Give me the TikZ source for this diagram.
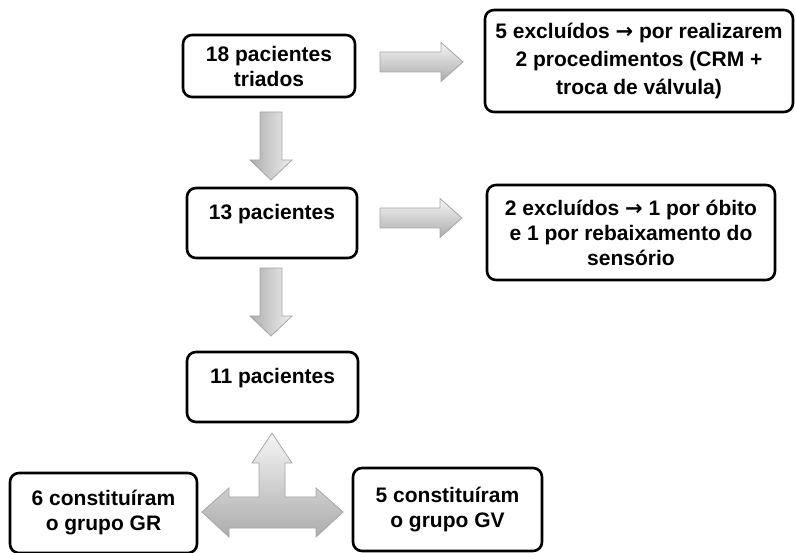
\documentclass[tikz,border=0pt]{standalone}
\usepackage{fontspec}
\setmainfont{Liberation Sans}
\newfontfamily\setafont{DejaVu Sans}
\usetikzlibrary{positioning}

\tikzset{
  caixa/.style={draw, line width=2.6pt, rounded corners=9pt, fill=white, align=center,
                inner sep=0pt, font=\bfseries\fontsize{21}{25}\selectfont},
  umalinha/.style={text height=15pt, text depth=22pt},
  setah/.style={draw=gray!70, line width=0.8pt, top color=gray!8, bottom color=gray!65},
  setav/.style={draw=gray!70, line width=0.8pt, left color=gray!65, right color=gray!12},
}
\newcommand{\seta}{{\setafont\bfseries →}}

\begin{document}
\begin{tikzpicture}[x=1pt, y=-1pt]

  \useasboundingbox (0,0) rectangle (796,553);

	%boxes
  \node[caixa, minimum width=172, minimum height=62] (triados) at (269,66) {18 pacientes\\triados};
  \node[caixa, minimum width=308, minimum height=102, font=\bfseries\fontsize{21}{28}\selectfont]
       (excl1) at (639,61) {5 excluídos \seta{} por realizarem\\2 procedimentos (CRM +\\troca de válvula)};
  \node[caixa, umalinha, minimum width=170, minimum height=70] (p13) at (272,223) {13 pacientes};
  \node[caixa, minimum width=288, minimum height=95] (excl2) at (631,232.5) {2 excluídos \seta{} 1 por óbito\\e 1 por rebaixamento do\\sensório};
  \node[caixa, umalinha, minimum width=171, minimum height=70] (p11) at (272.5,387) {11 pacientes};
  \node[caixa, minimum width=187, minimum height=80] (gr) at (103.5,513) {6 constituíram\\o grupo GR};
  \node[caixa, minimum width=189, minimum height=83] (gv) at (447.5,509.5) {5 constituíram\\o grupo GV};

	%arrows right
    \foreach \y/\xa/\xb in {62/380/463, 218/380/462}{
        \draw[setah] (\xa,\y-10) -- (\xb-22,\y-10) -- (\xb-22,\y-19.5) -- (\xb,\y)
              -- (\xb-22,\y+19.5) -- (\xb-22,\y+10) -- (\xa,\y+10) -- cycle;
    }

	%arrows down
    \foreach \x/\ya/\yb in {271/112/180, 271/268/336}{
        \draw[setav] (\x-11,\ya) -- (\x+11,\ya) -- (\x+11,\yb-20) -- (\x+21,\yb-20) -- (\x,\yb)
              -- (\x-21,\yb-20) -- (\x-11,\yb-20) -- cycle;
    }

	%split arrow
    \draw[setah] (272,433) -- (292,463) -- (285,463) -- (285,497) -- (316,497) -- (316,488)
          -- (343,512) -- (316,537) -- (316,528) -- (229,528) -- (229,537) -- (202,512)
          -- (229,488) -- (229,497) -- (259,497) -- (259,463) -- (252,463) -- cycle;

\end{tikzpicture}
\end{document}
